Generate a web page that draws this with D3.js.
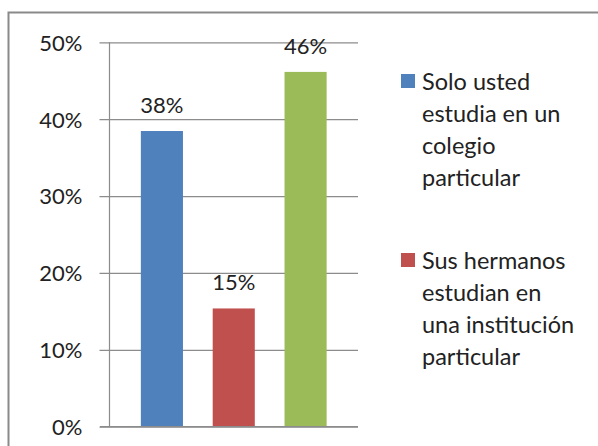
<!DOCTYPE html>
<html>
<head>
<meta charset="utf-8">
<script src="https://cdn.jsdelivr.net/npm/d3@7"></script>
<style>
  html, body { margin: 0; padding: 0; background: #fff; }
  svg { display: block; }
  text { font-family: Lato, "Open Sans", sans-serif; font-weight: 400; fill: #222; }
</style>
</head>
<body>
<svg id="chart" width="598" height="446"></svg>
<script>
const seriesKeys = ["s1", "s2", "s3"];
const seriesValues = [0.3846, 0.1538, 0.4615];
const valueLabels = ["38%", "15%", "46%"];
const seriesColors = ["#4F81BD", "#C0504D", "#9BBB59"];
const legendLabels = [
  ["Solo usted", "estudia en un", "colegio", "particular"],
  ["Sus hermanos", "estudian en", "una institución", "particular"]
];
const yTicks = [0, 0.1, 0.2, 0.3, 0.4, 0.5];

const svg = d3.select("#chart");

// outer chart border (top and left visible in crop)
svg.append("path")
  .attr("d", "M8.5,446 L8.5,12.5 L598,12.5")
  .attr("fill", "none")
  .attr("stroke", "#8a8a8a")
  .attr("stroke-width", 2);

const plotLeft = 109.5, plotRight = 358, plotTop = 42.3, plotBottom = 426.7;

const y = d3.scaleLinear().domain([0, 0.5]).range([plotBottom, plotTop]);
const x = d3.scaleBand().domain(seriesKeys)
  .range([plotLeft, plotRight])
  .paddingInner(0.414)
  .paddingOuter(0.4365);

// gridlines + ticks
const yAxis = d3.axisLeft(y)
  .tickValues(yTicks)
  .tickFormat(d3.format(".0%"))
  .tickSize(-(plotRight - plotLeft))
  .tickPadding(27);

const gy = svg.append("g")
  .attr("transform", `translate(${plotLeft},0)`)
  .call(yAxis);
gy.select(".domain").remove();
gy.selectAll(".tick line")
  .attr("x1", -10)
  .attr("stroke", "#8c8c8c")
  .attr("stroke-width", 1.2);
gy.selectAll(".tick text")
  .style("font-family", "Lato, sans-serif")
  .style("font-size", "22px")
  .attr("fill", "#222")
  .attr("dy", "0.36em");

// vertical axis line
svg.append("line")
  .attr("x1", plotLeft).attr("x2", plotLeft)
  .attr("y1", plotTop).attr("y2", plotBottom)
  .attr("stroke", "#8c8c8c").attr("stroke-width", 1.2);

// bars
svg.selectAll("rect.bar")
  .data(seriesValues)
  .join("rect")
  .attr("class", "bar")
  .attr("x", (d, i) => x(seriesKeys[i]))
  .attr("width", x.bandwidth())
  .attr("y", d => y(d))
  .attr("height", d => y(0) - y(d))
  .attr("fill", (d, i) => seriesColors[i]);

// bottom axis line drawn over bars
svg.append("line")
  .attr("x1", plotLeft - 9.5).attr("x2", plotRight)
  .attr("y1", plotBottom).attr("y2", plotBottom)
  .attr("stroke", "#8c8c8c").attr("stroke-width", 1.2);

// value labels
svg.selectAll("text.vlabel")
  .data(seriesValues)
  .join("text")
  .attr("class", "vlabel")
  .attr("x", (d, i) => x(seriesKeys[i]) + x.bandwidth() / 2)
  .attr("y", d => y(d) - 18)
  .attr("text-anchor", "middle")
  .style("font-size", "22px")
  .text((d, i) => valueLabels[i]);

// legend
const legendX = 401, legendTextX = 422;
const legendTops = [74, 253];
const lineH = 32;
legendLabels.forEach((lines, i) => {
  const g = svg.append("g");
  g.append("rect")
    .attr("x", legendX).attr("y", legendTops[i])
    .attr("width", 14).attr("height", 14)
    .attr("fill", seriesColors[i]);
  const t = g.append("text")
    .attr("x", legendTextX)
    .attr("y", legendTops[i] + 15.5)
    .style("font-size", "23.5px");
  lines.forEach((ln, j) => {
    t.append("tspan")
      .attr("x", legendTextX)
      .attr("y", legendTops[i] + 15.5 + j * lineH)
      .text(ln);
  });
});
</script>
</body>
</html>
